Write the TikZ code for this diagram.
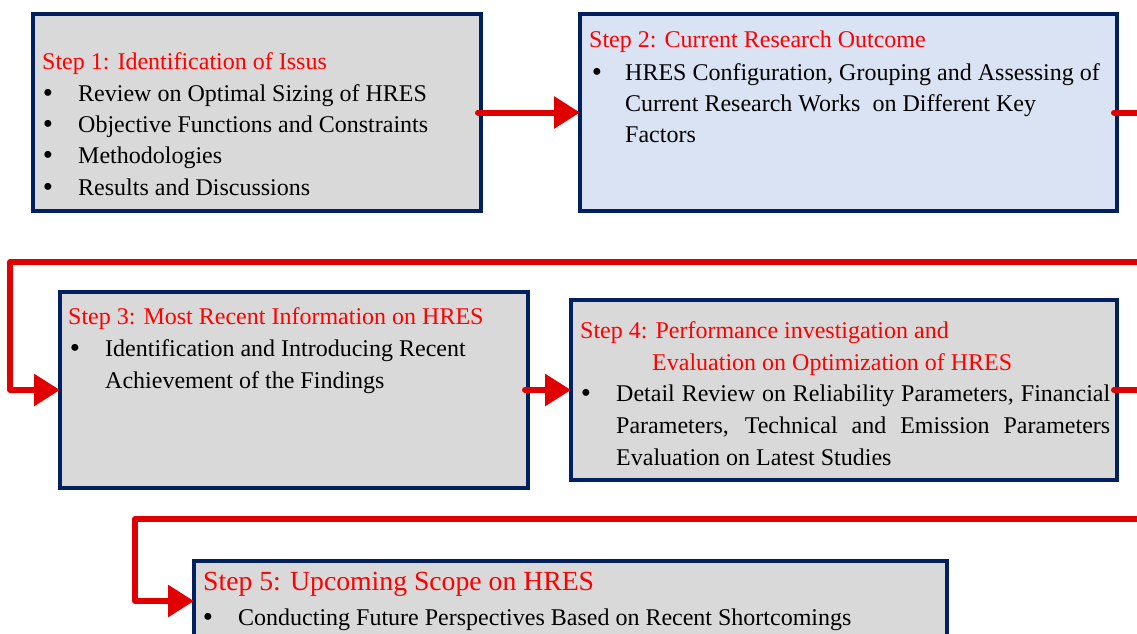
\documentclass[tikz,border=0pt]{standalone}
\usepackage{fontspec}
\setmainfont{Liberation Serif}
\usetikzlibrary{arrows.meta}
\definecolor{navy}{RGB}{0,32,96}
\definecolor{boxgray}{RGB}{217,217,217}
\definecolor{boxblue}{RGB}{218,227,243}
\definecolor{flowred}{RGB}{224,0,0}
\definecolor{titlered}{RGB}{255,0,0}
\begin{document}
\begin{tikzpicture}[x=1pt,y=-1pt,
  stepbox/.style={draw=navy,line width=4pt,inner sep=0pt,outer sep=0pt},
  txt/.style={inner sep=0pt,anchor=base west,font=\fontsize{24}{29}\selectfont},
  bul/.style={inner sep=0pt,anchor=center,font=\fontsize{29}{29}\selectfont},
  ttl/.style={txt,text=titlered},
  bigttl/.style={inner sep=0pt,anchor=base west,text=titlered,font=\fontsize{27.7}{32}\selectfont},
  flowline/.style={draw=flowred,line width=6pt,line cap=round,line join=round},
  flow/.style={flowline,-{Triangle[length=26pt,width=31pt]}}]
\useasboundingbox (0,0) rectangle (1137,633);
\clip (0,0) rectangle (1137,633);
% boxes
\node[stepbox,fill=boxgray,minimum width=448pt,minimum height=197pt] (b1) at (257,112.5) {};
\node[stepbox,fill=boxblue,minimum width=537pt,minimum height=197pt] (b2) at (848.5,112.5) {};
\node[stepbox,fill=boxgray,minimum width=468pt,minimum height=196pt] (b3) at (294,390) {};
\node[stepbox,fill=boxgray,minimum width=546pt,minimum height=180pt] (b4) at (844,390) {};
\node[stepbox,fill=boxgray,minimum width=753pt,minimum height=80pt] (b5) at (570.5,601) {};
% connector corners
\coordinate (c1) at (10,262);
\coordinate (c2) at (135,519);
% connectors
\draw[flow] ([xshift=-3pt]b1.east) -- (b2.west);
\draw[flow] ([xshift=-3pt]b2.east) -- ++(40,0) |- (c1) |- (b3.west);
\draw[flow] ([xshift=-3pt]b3.east) -- (b4.west);
\draw[flow] ([xshift=-3pt]b4.east) -- ++(40,0) |- (c2) |- (b5.west);
% Step 1
\node[ttl] (t1) at (42,69) {Step 1: Identification of Issus};
\node[bul] (t1a) at (48,96) {•};
\node[bul] (t1b) at (48,127) {•};
\node[bul] (t1c) at (48,158) {•};
\node[bul] (t1d) at (48,190) {•};
\node[txt] (l1a) at (78,101) {Review on Optimal Sizing of HRES};
\node[txt] (l1b) at (78,132) {Objective Functions and Constraints};
\node[txt] (l1c) at (78,163) {Methodologies};
\node[txt] (l1d) at (78,195) {Results and Discussions};
% Step 2
\node[ttl] (t2) at (589,47) {Step 2: Current Research Outcome};
\node[bul] (t2a) at (597,75) {•};
\node[txt] (l2a) at (625,80) {HRES Configuration, Grouping and Assessing of};
\node[txt] (l2b) at (625,111) {Current Research Works\ \ on Different Key};
\node[txt] (l2c) at (625,142) {Factors};
% Step 3
\node[ttl] (t3) at (68,324) {Step 3: Most Recent Information on HRES};
\node[bul] (t3a) at (75,351) {•};
\node[txt] (l3a) at (105,356) {Identification and Introducing Recent};
\node[txt] (l3b) at (105,388) {Achievement of the Findings};
% Step 4
\node[ttl] (t4) at (580,338) {Step 4: Performance investigation and};
\node[ttl] (t4b) at (652,370) {Evaluation on Optimization of HRES};
\node[bul] (t4a) at (586,396) {•};
\node[txt] (l4a) at (616,401) {\makebox[494pt][s]{Detail Review on Reliability Parameters, Financial}};
\node[txt] (l4b) at (616,433) {\makebox[494pt][s]{Parameters, Technical and Emission Parameters}};
\node[txt] (l4c) at (616,465) {Evaluation on Latest Studies};
% Step 5
\node[bigttl] (t5) at (203,590) {Step 5: Upcoming Scope on HRES};
\node[bul] (t5a) at (208,620) {•};
\node[txt] (l5a) at (238,625) {Conducting Future Perspectives Based on Recent Shortcomings};
\end{tikzpicture}
\end{document}
